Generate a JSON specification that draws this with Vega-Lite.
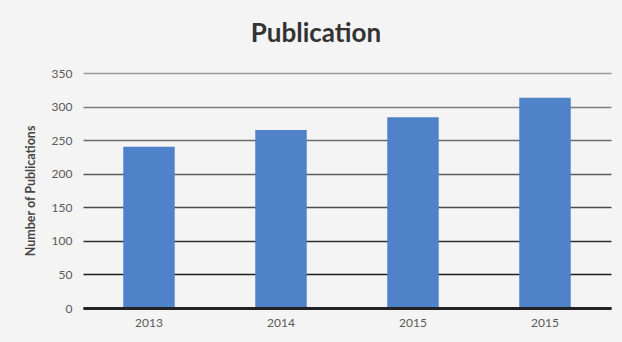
{
  "$schema": "https://vega.github.io/schema/vega-lite/v6.json",
  "autosize": "none",
  "width": 528,
  "height": 235,
  "padding": {"left": 83, "top": 73, "right": 11, "bottom": 34},
  "background": "#f4f4f4",
  "title": {
    "text": "Publication",
    "font": "Lato",
    "fontSize": 26,
    "fontWeight": "bold",
    "color": "#333333",
    "anchor": "middle",
    "dx": -31,
    "offset": 20
  },
  "data": {
    "values": [
      {"year": "2013", "publications": 240},
      {"year": "2014", "publications": 265},
      {"year": "2015", "publications": 284},
      {"year": "2016", "publications": 313}
    ]
  },
  "mark": {"type": "bar", "color": "#4f82c9"},
  "encoding": {
    "x": {
      "field": "year",
      "type": "nominal",
      "sort": null,
      "scale": {"paddingInner": 0.61, "paddingOuter": 0.305},
      "axis": {
        "title": null,
        "labelAngle": 0,
        "labelExpr": "datum.value == '2016' ? '2015' : datum.value",
        "labelFont": "Lato",
        "labelFontSize": 12,
        "labelColor": "#5a5a5a",
        "labelPadding": 9,
        "ticks": false,
        "domainColor": "#222222",
        "domainWidth": 3,
        "grid": false,
        "zindex": 1
      }
    },
    "y": {
      "field": "publications",
      "type": "quantitative",
      "scale": {"domain": [0, 350], "nice": false},
      "axis": {
        "title": "Number of Publications",
        "titleFont": "Lato",
        "titleFontSize": 12.5,
        "titleFontWeight": "bold",
        "titleColor": "#444444",
        "titleX": -46,
        "values": [0, 50, 100, 150, 200, 250, 300, 350],
        "labelFont": "Lato",
        "labelFontSize": 12,
        "labelColor": "#5a5a5a",
        "labelPadding": 11,
        "ticks": false,
        "domain": false,
        "gridWidth": 1.6,
        "gridColor": {
          "condition": [
            {"test": "datum.value <= 50", "value": "#1e1e1e"},
            {"test": "datum.value <= 100", "value": "#2e2e2e"},
            {"test": "datum.value <= 150", "value": "#4a4a4a"},
            {"test": "datum.value <= 200", "value": "#5a5a5a"},
            {"test": "datum.value <= 250", "value": "#6a6a6a"},
            {"test": "datum.value <= 300", "value": "#7d7d7d"}
          ],
          "value": "#9a9a9a"
        }
      }
    }
  },
  "config": {"view": {"stroke": null}}
}
